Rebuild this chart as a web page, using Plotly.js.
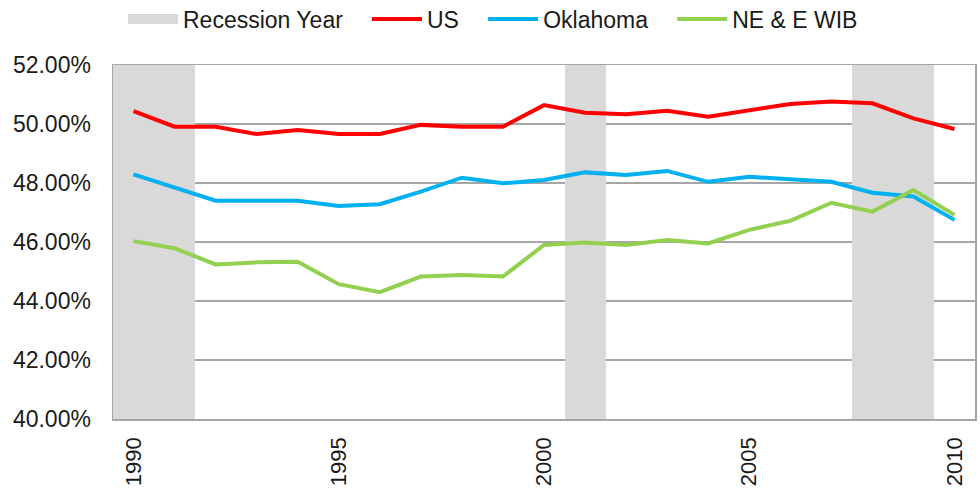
<!DOCTYPE html>
<html>
<head>
<meta charset="utf-8">
<script src="https://cdn.plot.ly/plotly-3.0.1.min.js"></script>
<style>html,body{margin:0;padding:0;background:#fff;}#chart{width:980px;height:493px;}</style>
</head>
<body>
<div id="chart"></div>
<script>
const years = [1990,1991,1992,1993,1994,1995,1996,1997,1998,1999,2000,2001,2002,2003,2004,2005,2006,2007,2008,2009,2010];
const usValues = [50.44,49.91,49.91,49.66,49.80,49.66,49.66,49.97,49.91,49.91,50.64,50.38,50.33,50.45,50.25,50.47,50.68,50.76,50.70,50.19,49.83];
const oklahomaValues = [48.29,47.85,47.40,47.40,47.40,47.22,47.28,47.71,48.18,47.99,48.10,48.36,48.27,48.41,48.04,48.21,48.12,48.04,47.67,47.54,46.75];
const neEwibValues = [46.03,45.79,45.24,45.31,45.33,44.57,44.30,44.83,44.88,44.83,45.90,45.98,45.90,46.07,45.95,46.41,46.72,47.33,47.03,47.76,46.92];
const recessionYears = [1990,1991,2001,2008,2009];
const seriesNames = ['Recession Year','US','Oklahoma','NE & E WIB'];
const xTickLabels = ['1990','1995','2000','2005','2010'];
const yMin = 40, yMax = 52;

const pad = '\u00a0\u00a0\u00a0';
const font = {family: 'Liberation Sans, Arial, sans-serif', size: 23, color: '#1a1a1a'};

const traces = [
  {
    type: 'bar', x: recessionYears, y: recessionYears.map(() => yMax - yMin), base: yMin,
    width: 1, marker: {color: '#d9d9d9', line: {width: 0}}, showlegend: false, hoverinfo: 'skip'
  },
  {
    type: 'scatter', mode: 'lines', x: [null], y: [null], name: seriesNames[0] + pad,
    line: {color: '#d9d9d9', width: 14}, hoverinfo: 'skip'
  },
  {type: 'scatter', mode: 'lines', x: years, y: usValues, name: seriesNames[1] + pad, line: {color: '#ff0000', width: 4}},
  {type: 'scatter', mode: 'lines', x: years, y: oklahomaValues, name: seriesNames[2] + pad, line: {color: '#00b0f0', width: 4}},
  {type: 'scatter', mode: 'lines', x: years, y: neEwibValues, name: seriesNames[3], line: {color: '#92d050', width: 4}}
];

const layout = {
  width: 980, height: 493,
  margin: {l: 113, r: 5, t: 65, b: 74, autoexpand: false},
  paper_bgcolor: '#fff', plot_bgcolor: '#fff',
  font: font,
  bargap: 0,
  showlegend: true,
  legend: {orientation: 'h', x: 0.0116, xanchor: 'left', y: 1.13, yanchor: 'middle',
           font: font, itemwidth: 50, tracegroupgap: 0, bgcolor: 'rgba(0,0,0,0)'},
  xaxis: {
    range: [1989.5, 2010.5], tickmode: 'array', tickvals: xTickLabels.map(Number), ticktext: xTickLabels,
    tickangle: -90, showgrid: false, zeroline: false, ticks: '',
    tickfont: {family: 'Liberation Sans, Arial, sans-serif', size: 22, color: '#1a1a1a'},
    showline: true, linecolor: '#a6a6a6', linewidth: 1.5, mirror: true, ticklabelstandoff: 8
  },
  yaxis: {
    range: [yMin, yMax], dtick: 2, tickformat: '.2f', ticksuffix: '%',
    showgrid: true, gridcolor: '#a6a6a6', gridwidth: 1.3, zeroline: false, ticks: '',
    showline: true, linecolor: '#a6a6a6', linewidth: 1.5, mirror: true, ticklabelstandoff: 16
  }
};

Plotly.newPlot('chart', traces, layout, {displayModeBar: false, staticPlot: true});
</script>
</body>
</html>
